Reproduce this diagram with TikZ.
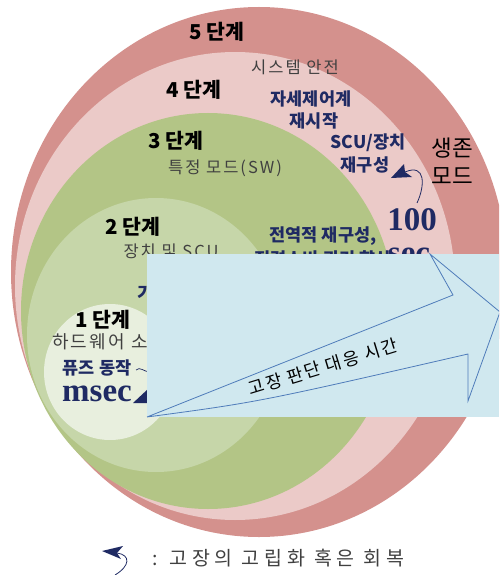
\documentclass[tikz,border=0pt]{standalone}
\usepackage{fontspec}
\usetikzlibrary{arrows.meta}
\newfontfamily\kr{Noto Sans CJK KR}
\newfontfamily\krs{Noto Sans CJK KR}[LetterSpace=12]
\newfontfamily\krw{Noto Sans CJK KR}[LetterSpace=24]
\newfontfamily\tnr{Liberation Serif}
\definecolor{pinkD}{HTML}{D4918D}
\definecolor{pinkL}{HTML}{EBCAC8}
\definecolor{greenD}{HTML}{B3C586}
\definecolor{greenL}{HTML}{C6D6A9}
\definecolor{paleG}{HTML}{E8EFDE}
\definecolor{boxB}{HTML}{D0E8EF}
\definecolor{arrB}{HTML}{4F7CBA}
\definecolor{navy}{HTML}{1F2A63}
\definecolor{grayT}{HTML}{404040}
\tikzset{
  stagelbl/.style={inner sep=0pt, font=\kr\bfseries\fontsize{20.5}{23}\selectfont, text=black},
  graylbl/.style={inner sep=0pt, font=\krs\fontsize{16.5}{19}\selectfont, text=grayT},
  navylbl/.style={inner sep=0pt, font=\kr\bfseries\fontsize{17.5}{20}\selectfont, text=navy},
  bignum/.style={inner sep=0pt, font=\tnr\bfseries\fontsize{33}{36}\selectfont, text=navy},
  modelbl/.style={inner sep=0pt, font=\kr\fontsize{22.5}{25}\selectfont, text=black},
  navyline/.style={draw=navy, line width=0.8pt},
  navyhead/.style={fill=navy},
}
\begin{document}
\begin{tikzpicture}[x=1pt,y=-1pt]
\useasboundingbox (0,0) rectangle (499,575);
\clip (0,0) rectangle (499,575);
% nested rings
\fill[pinkD] (259,272) ellipse [x radius=248pt, y radius=265pt];
\fill[pinkL] (235,286) ellipse [x radius=220pt, y radius=234pt];
\fill[greenD] (208,311) ellipse [x radius=187pt, y radius=198pt];
\fill[greenL] (156,335) ellipse [x radius=129pt, y radius=137pt];
\fill[paleG] (110,372) ellipse [x radius=66pt, y radius=68pt];
% texts
\node[stagelbl] (s5) at (217,32) {5 단계};
\node[graylbl] (t5) at (295,67) {시스템 안전};
\node[stagelbl] (s4) at (194,90) {4 단계};
\node[navylbl] (n4a) at (311,99) {자세제어계};
\node[navylbl] (n4b) at (314,121) {재시작};
\node[navylbl] (n4c) at (368,143) {SCU/장치};
\node[navylbl] (n4d) at (365,165) {재구성};
\node[modelbl] (m1) at (452,148) {생존};
\node[modelbl] (m2) at (452,176) {모드};
\node[stagelbl] (s3) at (176,141) {3 단계};
\node[graylbl] (t3) at (225,168) {특정 모드(SW)};
\node[bignum, anchor=base, text height=23pt, text depth=0pt] (n100) at (412,230) {100};
\node[bignum, anchor=base, text height=16pt, text depth=0pt] (nsec) at (409,263) {sec};
\node[navylbl] (n3a) at (323,236) {전역적 재구성,};
\node[navylbl] (n3b) at (323,259) {전력소비 관리 향상};
\node[stagelbl] (s2) at (133,227) {2 단계};
\node[graylbl] (t2) at (171,251) {장치 및 SCU};
\node[navylbl, anchor=west] (n2) at (137,293) {기능 재할당};
\node[stagelbl] (s1) at (103,320) {1 단계};
\node[graylbl, font=\krs\fontsize{18}{20}\selectfont, anchor=west] (t1) at (52,342) {하드웨어 소자};
\node[navylbl, text height=13pt, text depth=2pt] (n1) at (97,369) {퓨즈 동작};
\node[bignum, anchor=base, text height=16pt, text depth=0pt] (nms) at (97,401) {msec};
\coordinate (tl1) at (136,370);
\coordinate (tl2) at (150,372);
\draw[navyline, line width=0.7pt] (tl1) .. controls (140,366) and (144,372) .. (tl2);
\fill[navyhead] (133,403) -- (148,389) -- (148,403) -- cycle;
% recovery arrow (100 sec)
\coordinate (ra) at (417,203);
\coordinate (rbase) at (405,172);
\coordinate (rtip) at (391,178);
\draw[navyline] (ra) .. controls (425,186) and (426,163) .. (rbase);
\fill[navyhead] (rtip) -- (404,164) -- (rbase) -- (412,177) -- cycle;
% blue box with arrow
\fill[boxB] (147,254) rectangle (499,417);
\coordinate (tail) at (147,417);
\coordinate (up) at (453,295);
\coordinate (barbU) at (430,254);
\coordinate (tip) at (500,312);
\coordinate (barbL) at (468,401);
\coordinate (low) at (468,354);
\draw[arrB, line width=0.8pt, line join=miter] (tail) -- (up) -- (barbU) -- (tip) -- (barbL) -- (low) .. controls (259,402) .. (tail);
\node[inner sep=0pt, rotate=17, font=\krs\fontsize{17.5}{19}\selectfont, text=black] (lab) at (323,367) {고장 판단 대응 시간};
% legend
\coordinate (lg1) at (115,575);
\coordinate (lgbase) at (117,553);
\coordinate (lgtip) at (102,551);
\draw[navyline] (lg1) .. controls (130,566) and (131,555) .. (lgbase);
\fill[navyhead] (lgtip) -- (123,546) -- (lgbase) -- (121,559) -- cycle;
\node[inner sep=0pt, anchor=west, font=\krw\fontsize{19.5}{22}\selectfont, text=grayT] (leg) at (152,558) {: 고장의 고립화 혹은 회복};
\end{tikzpicture}
\end{document}
